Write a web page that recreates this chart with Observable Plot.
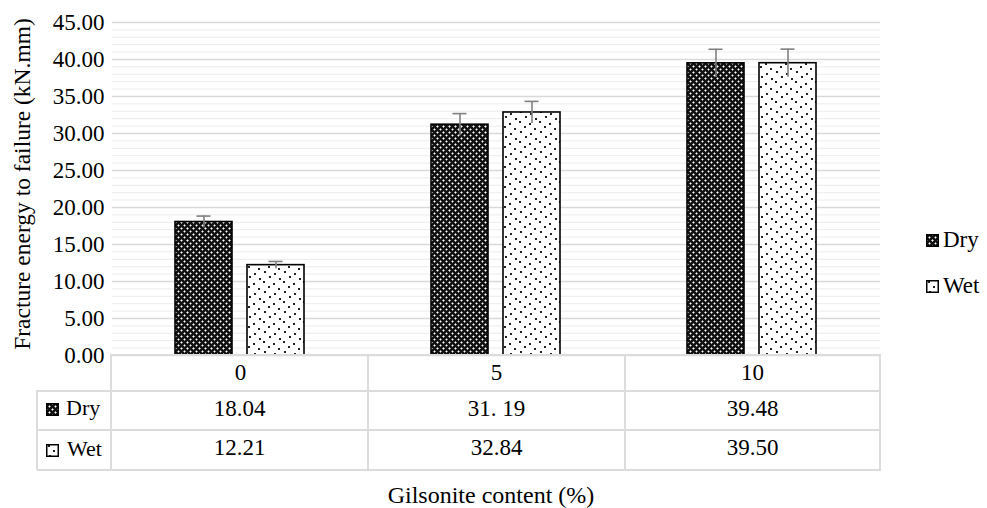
<!DOCTYPE html>
<html>
<head>
<meta charset="utf-8">
<script src="https://cdn.jsdelivr.net/npm/d3@7"></script>
<script src="https://cdn.jsdelivr.net/npm/@observablehq/plot@0.6"></script>
<style>
  html, body { margin: 0; padding: 0; background: #fff; }
  #wrap { position: relative; width: 987px; height: 508px; font-family: "Liberation Serif", "Times New Roman", serif; color: #000; overflow: hidden; }
  #wrap svg.plot { position: absolute; left: 0; top: 0; }
  .abs { position: absolute; }
  .cell { position: absolute; display: flex; align-items: center; justify-content: center; font-size: 23px; }
  .hl { position: absolute; height: 2px; background: #dcdcdc; }
  .vl { position: absolute; width: 2px; background: #dcdcdc; }
</style>
</head>
<body>
<div id="wrap"></div>
<script>
// ---- data ----
const categories = ["0", "5", "10"];
const series = ["Dry", "Wet"];
const dryValues = [18.04, 31.19, 39.48];
const wetValues = [12.21, 32.84, 39.50];
const dryErrors = [0.8, 1.5, 1.9];
const wetErrors = [0.5, 1.5, 1.9];
const dryLabels = ["18.04", "31. 19", "39.48"];
const wetLabels = ["12.21", "32.84", "39.50"];
const yTicks = [0, 5, 10, 15, 20, 25, 30, 35, 40, 45];
const yMinor = d3.range(0, 46).filter(v => v % 5 !== 0);
const yTitle = "Fracture energy to failure (kN.mm)";
const xTitle = "Gilsonite content (%)";

const rows = [];
categories.forEach((c, i) => {
  rows.push({cat: c, series: "Dry", value: dryValues[i], err: dryErrors[i]});
  rows.push({cat: c, series: "Wet", value: wetValues[i], err: wetErrors[i]});
});
const dry = rows.filter(d => d.series === "Dry");
const wet = rows.filter(d => d.series === "Wet");

const wrap = document.getElementById("wrap");

const chart = Plot.plot({
  width: 987,
  height: 391,
  marginTop: 22,
  marginBottom: 36,
  marginLeft: 111,
  marginRight: 107,
  style: {fontFamily: "'Liberation Serif', 'Times New Roman', serif", fontSize: "23px", color: "#000", background: "transparent"},
  fx: {domain: categories, padding: 0, label: null, axis: "bottom", tickSize: 0, tickPadding: 8},
  x: {domain: series, axis: null, paddingInner: 0.205, paddingOuter: 0.863},
  y: {domain: [0, 45], ticks: yTicks, tickFormat: d => d.toFixed(2), label: null, tickSize: 0, tickPadding: 8},
  marks: [
    Plot.ruleY(yMinor, {stroke: "#ececec", strokeWidth: 1}),
    Plot.ruleY(yTicks, {stroke: "#d9d9d9", strokeWidth: 1.3}),
    Plot.barY(dry, {fx: "cat", x: "series", y: "value", fill: "url(#dryPat)", stroke: "#000", strokeWidth: 1.6}),
    Plot.barY(wet, {fx: "cat", x: "series", y: "value", fill: "url(#wetPat)", stroke: "#000", strokeWidth: 1.6}),
    Plot.ruleX(rows, {fx: "cat", x: "series", y1: d => d.value - d.err, y2: d => d.value + d.err, stroke: "#808080", strokeWidth: 1.6}),
    Plot.tickY(rows, {fx: "cat", x: "series", y: d => d.value + d.err, stroke: "#808080", strokeWidth: 1.6, insetLeft: 21.5, insetRight: 21.5})
  ]
});
chart.classList.add("plot");

// patterns
const ns = "http://www.w3.org/2000/svg";
const defs = document.createElementNS(ns, "defs");
defs.innerHTML = `
<pattern id="dryPat" patternUnits="userSpaceOnUse" width="6" height="6">
  <rect width="6" height="6" fill="#111"/>
  <rect x="0" y="0" width="1" height="1" fill="#fff"/>
  <rect x="3" y="3" width="1" height="1" fill="#fff"/>
  <rect x="1" y="0" width="1" height="1" fill="#999"/>
  <rect x="0" y="1" width="1" height="1" fill="#999"/>
  <rect x="5" y="0" width="1" height="1" fill="#999"/>
  <rect x="0" y="5" width="1" height="1" fill="#999"/>
  <rect x="2" y="3" width="1" height="1" fill="#888"/>
  <rect x="4" y="3" width="1" height="1" fill="#888"/>
  <rect x="3" y="2" width="1" height="1" fill="#888"/>
  <rect x="3" y="4" width="1" height="1" fill="#888"/>
</pattern>
<pattern id="wetPat" patternUnits="userSpaceOnUse" width="20" height="20">
  <rect width="20" height="20" fill="#fff"/>
  <g fill="#222">
    <rect x="2" y="1" width="2" height="2"/>
    <rect x="12" y="3" width="2" height="2"/>
    <rect x="7" y="6" width="2" height="2"/>
    <rect x="17" y="8" width="2" height="2"/>
    <rect x="3" y="11" width="2" height="2"/>
    <rect x="13" y="13" width="2" height="2"/>
    <rect x="8" y="16" width="2" height="2"/>
    <rect x="18" y="18" width="2" height="2"/>
  </g>
</pattern>`;
chart.insertBefore(defs, chart.firstChild);
wrap.appendChild(chart);

// y-axis title
const yt = document.createElement("div");
yt.className = "abs";
yt.textContent = yTitle;
yt.style.cssText = "position:absolute;left:22px;top:184px;font-size:23.5px;white-space:nowrap;transform:translate(-50%,-50%) rotate(-90deg);";
wrap.appendChild(yt);

// data table
const colX = [37, 111, 368, 625, 880];
const rowY = [355, 391, 430, 470];
function hline(x0, x1, y) { const d = document.createElement("div"); d.className = "hl"; d.style.left = x0 + "px"; d.style.width = (x1 - x0 + 1) + "px"; d.style.top = (y - 1) + "px"; wrap.appendChild(d); }
function vline(x, y0, y1) { const d = document.createElement("div"); d.className = "vl"; d.style.left = (x - 1) + "px"; d.style.top = (y0 - 1) + "px"; d.style.height = (y1 - y0 + 1) + "px"; wrap.appendChild(d); }
hline(colX[1], colX[4], rowY[0]);
hline(colX[0], colX[4], rowY[1]);
hline(colX[0], colX[4], rowY[2]);
hline(colX[0], colX[4], rowY[3]);
vline(colX[0], rowY[1], rowY[3]);
vline(colX[1], rowY[0], rowY[3]);
vline(colX[2], rowY[0], rowY[3]);
vline(colX[3], rowY[0], rowY[3]);
vline(colX[4], rowY[0], rowY[3]);

function cell(text, x0, x1, y0, y1) {
  const d = document.createElement("div");
  d.className = "cell";
  d.style.left = x0 + "px"; d.style.width = (x1 - x0) + "px";
  d.style.top = y0 + "px"; d.style.height = (y1 - y0) + "px";
  d.textContent = text;
  wrap.appendChild(d);
  return d;
}
[dryLabels, wetLabels].forEach((labels, r) => {
  labels.forEach((t, c) => cell(t, colX[c + 1], colX[c + 2], rowY[r + 1], rowY[r + 2] - 4));
});

function swatch(id, x, y, size) {
  const s = document.createElementNS(ns, "svg");
  s.setAttribute("width", size); s.setAttribute("height", size);
  s.style.cssText = `position:absolute;left:${x}px;top:${y}px;`;
  s.innerHTML = `<rect x="0.75" y="0.75" width="${size - 1.5}" height="${size - 1.5}" fill="url(#${id})" stroke="#000" stroke-width="1.5"/>`;
  wrap.appendChild(s);
}
function label(text, x, y, fs) {
  const d = document.createElement("div");
  d.className = "abs";
  d.style.cssText = `position:absolute;left:${x}px;top:${y}px;font-size:${fs}px;line-height:${fs}px;white-space:nowrap;`;
  d.textContent = text;
  wrap.appendChild(d);
}
// row headers in table
swatch("dryPat", 46, 403, 13); label(series[0], 66, 397, 22);
swatch("wetPat", 46, 444, 13); label(series[1], 67, 438, 22);

// legend
swatch("dryPat", 926, 234, 13); label(series[0], 943, 228, 23);
swatch("wetPat", 926, 280, 13); label(series[1], 943, 274, 23);

// x title
const xt = document.createElement("div");
xt.className = "abs";
xt.textContent = xTitle;
xt.style.cssText = "position:absolute;left:491px;top:495px;font-size:24px;white-space:nowrap;transform:translate(-50%,-50%);";
wrap.appendChild(xt);
</script>
</body>
</html>
